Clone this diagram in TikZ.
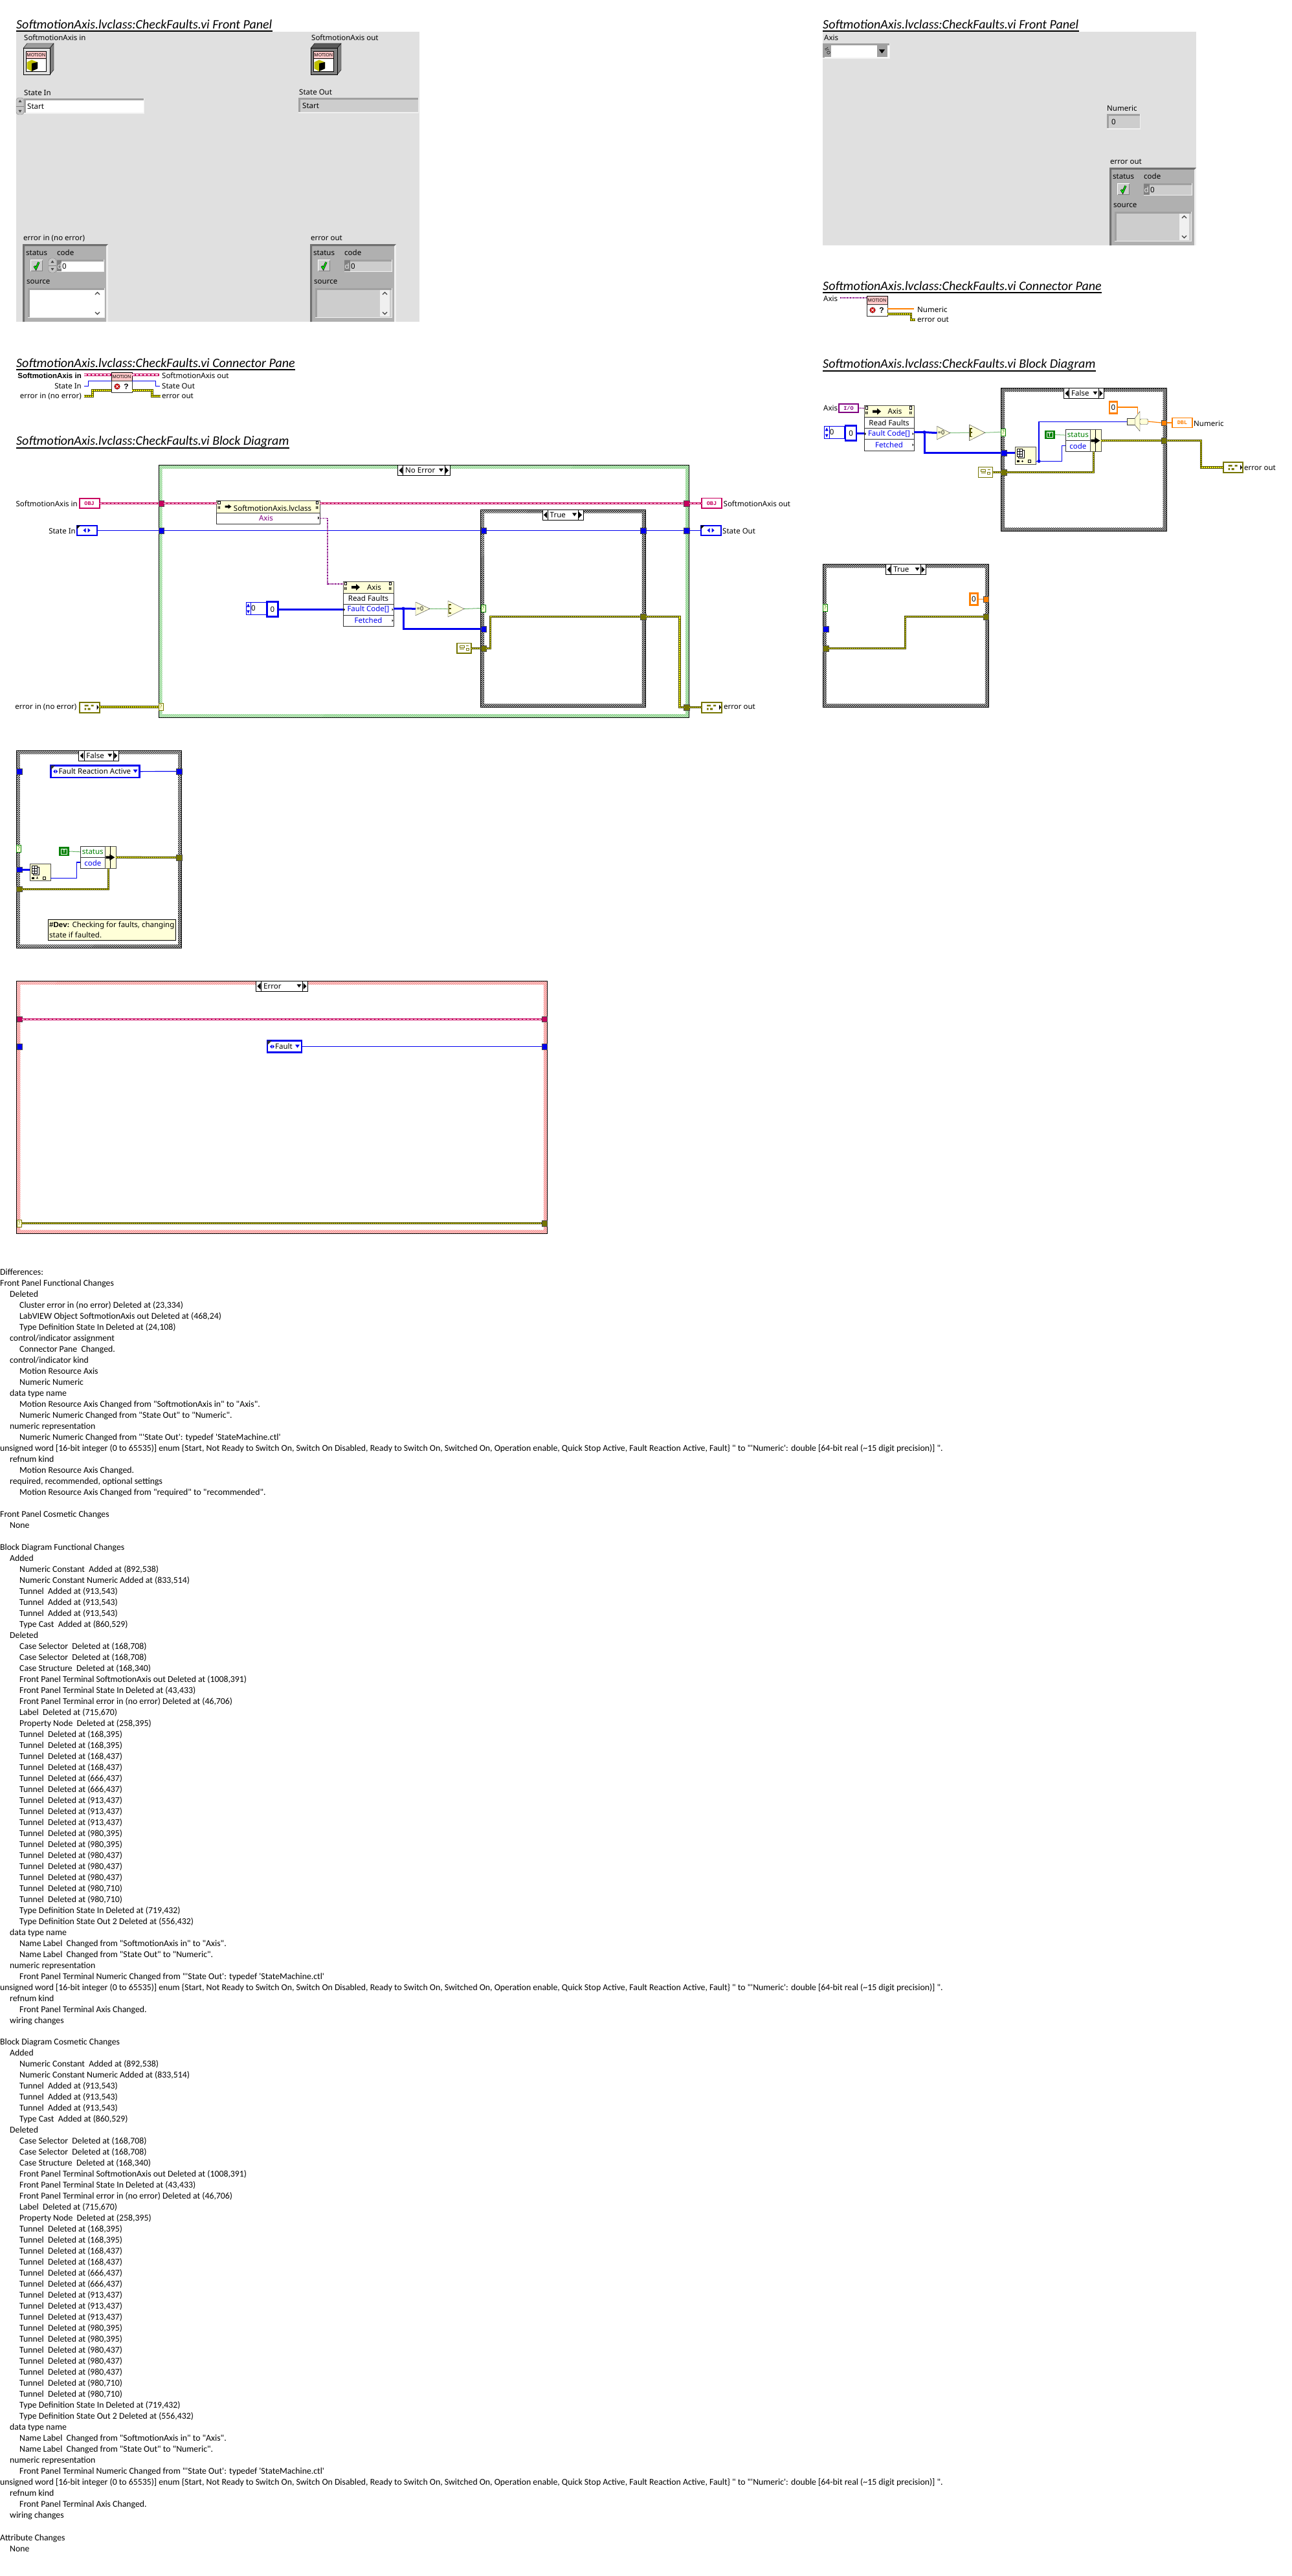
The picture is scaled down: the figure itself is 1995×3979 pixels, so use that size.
\documentclass[tikz,border=0pt]{standalone}
\usepackage{fontspec}
\setsansfont{Noto Sans}
\newfontfamily\difffamily{Carlito}
\newfontfamily\lvmono{Liberation Mono}
\newfontfamily\lvbold{Liberation Sans}
\usetikzlibrary{patterns}

\definecolor{lvpanel}{HTML}{E0E0E0}
\definecolor{lvclus}{HTML}{B0B0B0}
\definecolor{lvind}{HTML}{CDCDCD}
\definecolor{lvlite}{HTML}{F0F0F0}
\definecolor{lvdark}{HTML}{A0A0A0}
\definecolor{lvpink}{HTML}{C8005F}
\definecolor{lvblue}{HTML}{0000F0}
\definecolor{lvolive}{HTML}{757500}
\definecolor{lvoline}{HTML}{4A4A00}
\definecolor{lvyellow}{HTML}{FFFF00}
\definecolor{lvgreen}{HTML}{008000}
\definecolor{lvpurple}{HTML}{800080}
\definecolor{lvorange}{HTML}{FF8000}
\definecolor{lvcream}{HTML}{FFFFD8}
\definecolor{lvband}{HTML}{FFC8C8}
\definecolor{lvgreenhatch}{HTML}{60C060}
\definecolor{lvgreenbase}{HTML}{C8ECC8}
\definecolor{lvredhatch}{HTML}{F07070}
\definecolor{lvredbase}{HTML}{FFD0D0}

% case structure frame: x1 y1 x2 y2 hatch base pattern
\newcommand{\lvframe}[7]{
  \fill[#6,even odd rule] (#1,#2) rectangle (#3,#4) ({#1+5.5},{#2+5.5}) rectangle ({#3-5.5},{#4-5.5});
  \fill[pattern=#7,pattern color=#5,even odd rule] (#1,#2) rectangle (#3,#4) ({#1+5.5},{#2+5.5}) rectangle ({#3-5.5},{#4-5.5});
  \draw[black,line width=1pt] (#1,#2) rectangle (#3,#4);
}
% case selector: name x y w h text
\newcommand{\lvsel}[6]{
  \node[selbox,minimum width=#4pt,minimum height=#5pt] (#1) at (#2,#3) {};
  \node[lab,anchor=west] (#1txt) at ({#2+11.5},{#3+#5/2}) {#6};
  \draw ({#2+8},#3) -- ++(0,#5) ({#2+#4-8},#3) -- ++(0,#5);
  \fill ({#2+2},{#3+#5/2}) -- ++(5,-5) -- ++(0,10) -- cycle;
  \fill ({#2+#4-2},{#3+#5/2}) -- ++(-5,-5) -- ++(0,10) -- cycle;
  \fill ({#2+#4-17},{#3+#5/2-3}) -- ++(7,0) -- ++(-3.5,5) -- cycle;
}
% name x y w h fill
\newcommand{\lvbevel}[6]{
  \begin{scope}[shift={(#2,#3)}]
    \pgfmathsetmacro\bww{#4}\pgfmathsetmacro\bw{#4-4.5}\pgfmathsetmacro\bh{#5-4.5}
    \fill[lvlite] (0,0) rectangle (\bww,#5);
    \fill[lvdark] (0,0) rectangle ({\bww-1.5},{#5-1.5});
    \node[field,fill=#6,minimum width=\bw pt,minimum height=\bh pt] (#1) at (3,3) {};
  \end{scope}
}
% spinner x y w h
\newcommand{\lvspin}[4]{
  \begin{scope}[shift={(#1,#2)}]
    \draw[gray,fill=lvdark!60,rounded corners=4pt] (0,0) rectangle (#3,#4);
    \draw[gray] (0,{#4/2}) -- (#3,{#4/2});
    \fill[gray!60!black] ({#3/2},3) -- ++(2.5,4) -- ++(-5,0) -- cycle;
    \fill[gray!60!black] ({#3/2},{#4-3}) -- ++(2.5,-4) -- ++(-5,0) -- cycle;
  \end{scope}
}
% green check button, x y
\newcommand{\lvcheck}[2]{
  \begin{scope}[shift={(#1,#2)}]
    \fill[white] (0,0) rectangle (19,18);
    \fill[gray] (1,1) rectangle (19,18);
    \fill[lvind] (1,1) rectangle (17.5,16.5);
    \draw[black,line width=3pt] (6,10) -- (8.5,14) -- (13,4);
    \draw[green,line width=1.5pt] (6,10) -- (8.5,14) -- (13,4);
  \end{scope}
}
% scrollbar x y h fill
\newcommand{\lvscroll}[4]{
  \begin{scope}[shift={(#1,#2)}]
    \fill[#4] (0,0) rectangle (15,#3);
    \draw[gray!50!black,line width=1.2pt] (4,7) -- (7.5,3.5) -- (11,7);
    \draw[gray!50!black,line width=1.2pt] (4,{#3-7}) -- (7.5,{#3-3.5}) -- (11,{#3-7});
  \end{scope}
}
% error cluster: name x y w numeric-x d-width field-fill scroll-fill
\newcommand{\lvcluster}[8]{
  \begin{scope}[shift={(#2,#3)}]
    \fill[lvlite] (0,0) rectangle (#4,120);
    \fill[lvclus] (0,0) rectangle ({#4-3},120);
    \fill[lvdark!70!black] (0,0) -- (#4,0) -- ({#4-3},3) -- (3,3) -- (3,120) -- (0,120) -- cycle;
    \node[lab,anchor=west] (#1st) at (5,14) {status};
    \node[lab,anchor=west] (#1co) at (#5,13) {code};
    \lvcheck{12}{24}
    \lvbevel{#1num}{#5}{24}{#4-#5-6}{19}{#7}
    \fill[gray] (#5,25) rectangle ++(#6,17);
    \node[lab,anchor=west,text=lvlite] (#1d) at ({#5+0.5},34) {d};
    \node[lab,anchor=west] (#1zero) at ({#5+#6+1},34) {0};
    \node[lab,anchor=west] (#1so) at (6,58) {source};
    \lvbevel{#1src}{8}{68}{119}{46}{#7}
    \lvscroll{108}{71}{41}{#8}
  \end{scope}
}
% motion class control on a front panel: x y front-fill
\newcommand{\lvobject}[3]{
  \begin{scope}[shift={(#1,#2)}]
    \draw[black,fill=#3!70!black] (0,7.5) -- (6,0) -- (47,0) -- (41,7.5) -- cycle;
    \draw[black,fill=gray] (41,7.5) -- (47,0) -- (47,41) -- (41,48) -- cycle;
    \draw[black,fill=#3] (0,7.5) rectangle (41,48);
    \draw[black,fill=white] (4,12) rectangle (35.5,43.5);
    \node[bandbox,minimum width=31.5pt,minimum height=11pt] (#1mo) at (4,12) {MOTION};
    \fill[lvyellow!75!black] (5.5,29) -- (13,25.5) -- (22,29) -- (22,39) -- (13,43) -- (5.5,39) -- cycle;
    \fill[black] (13,31) -- (22,29) -- (22,39) -- (13,43) -- cycle;
  \end{scope}
}
% connector pane icon: name x y
\newcommand{\lvconn}[3]{
  \node[bandbox,draw=black,line width=1pt,minimum width=32pt,minimum height=13pt] (#1b) at (#2,#3) {MOTION};
  \node[rowbox,line width=1pt,minimum width=32pt,minimum height=18pt] (#1a) at (#2,{#3+13}) {};
  \node[circle,fill=red!80!black,draw=gray,inner sep=0pt,minimum size=9pt] (#1e) at ({#2+9},{#3+22}) {};
  \draw[white,line width=1pt] ({#2+7},{#3+20}) -- ++(4,4) ({#2+11},{#3+20}) -- ++(-4,4);
  \node[font=\lvbold\bfseries\fontsize{12}{12}\selectfont] (#1q) at ({#2+23},{#3+22}) {?};
}
% small page mark of a node header
\newcommand{\lvdoc}[2]{
  \draw[black,fill=white] ({#1},{#2}) rectangle ++(3.5,4.5);
  \fill ({#1},{#2+8}) rectangle ++(1.2,4) ({#1+2.2},{#2+8}) rectangle ++(1.2,4);
}
% read node with three rows: name x y w
\newcommand{\lvread}[4]{
  \node[headbox,minimum width=#4pt,minimum height=18pt] (#1h) at (#2,#3) {};
  \node[lab] (#1ht) at ({#2+#4/2+9},{#3+9}) {Axis};
  \lvdoc{#2+2}{#3+1}\lvdoc{#2+#4-7}{#3+1}
  \fill ({#2+13},{#3+7}) rectangle ++(7,4) ({#2+20},{#3+4}) -- ++(6,5) -- ++(-6,5) -- cycle;
  \node[rowbox,minimum width=#4pt,minimum height=17pt] (#1r) at (#2,{#3+18}) {};
  \node[lab] (#1rt) at ({#2+#4/2},{#3+26.5}) {Read Faults};
  \node[rowbox,minimum width=#4pt,minimum height=17pt] (#1f) at (#2,{#3+35}) {};
  \node[lab,text=lvblue] (#1ft) at ({#2+#4/2},{#3+43.5}) {Fault Code[]};
  \node[rowbox,minimum width=#4pt,minimum height=17.5pt] (#1g) at (#2,{#3+52}) {};
  \node[lab,text=lvblue] (#1gt) at ({#2+#4/2},{#3+60.5}) {Fetched};
  \foreach \yy in {43.5,60.5}{\fill ({#2+#4-2.5},{#3+\yy-2}) -- ++(2,2) -- ++(-2,2) -- cycle;}
  \fill ({#2+1},{#3+41.5}) -- ++(2,2) -- ++(-2,2) -- cycle;
}
% array constant: name x y
\newcommand{\lvarr}[3]{
  \node[arrbox,minimum width=31pt,minimum height=19pt] (#1) at (#2,{#3+1}) {};
  \draw[lvblue] ({#2+7},{#3+1}) -- ++(0,19);
  \fill[lvblue] ({#2+3.5},{#3+3}) -- ++(2.5,5) -- ++(-5,0) -- cycle ({#2+3.5},{#3+18}) -- ++(2.5,-5) -- ++(-5,0) -- cycle;
  \node[lab,anchor=west] (#1z) at ({#2+8},{#3+10}) {0};
  \node[constbox,draw=lvblue,minimum width=17pt,minimum height=23pt] (#1e) at ({#2+32.5},#3) {0};
}
% index node glyph: name x y
\newcommand{\lvidx}[3]{
  \node[headbox,minimum width=31.5pt,minimum height=26.3pt] (#1) at (#2,#3) {};
  \begin{scope}[shift={(#2,#3)}]
    \draw[fill=white] (5,5) rectangle (14,17);
    \draw[fill=white] (3,2.5) rectangle (11,15);
    \draw (3,6.5) -- (11,6.5) (3,10.5) -- (11,10.5) (7,2.5) -- (7,15);
    \fill (3,20.5) rectangle (7,23.5);
    \draw (11,20) -- (11,23) (9.5,21.5) -- (12.5,21.5);
    \draw[line width=.8pt] (20,20) rectangle (24,24);
  \end{scope}
}
% status and code bundle with the merge cell: name x y
\newcommand{\lvbundle}[3]{
  \node[rowbox,minimum width=38pt,minimum height=17pt] (#1s) at (#2,#3) {};
  \node[lab,text=lvgreen] (#1st) at ({#2+19},{#3+8.5}) {status};
  \node[rowbox,minimum width=38pt,minimum height=17pt] (#1c) at (#2,{#3+17}) {};
  \node[lab,text=lvblue] (#1ct) at ({#2+19},{#3+25.5}) {code};
  \node[headbox,minimum width=16.5pt,minimum height=34pt] (#1m) at ({#2+38},#3) {};
  \draw ({#2+46},#3) -- ++(0,34);
  \fill ({#2+39},{#3+15}) rectangle ++(6,4) ({#2+45},{#3+12}) -- ++(8,5) -- ++(-8,5) -- cycle;
}
% green boolean constant: name x y
\newcommand{\lvtrue}[3]{
  \node[anchor=north west,fill=lvgreen,inner sep=0pt,outer sep=0pt,minimum width=16pt,minimum height=13.4pt] (#1) at (#2,#3) {};
  \node[anchor=center,draw=white,line width=.8pt,inner sep=0pt,minimum width=9pt,minimum height=8pt,text=white,font=\lvbold\bfseries\fontsize{8}{8}\selectfont] (#1t) at (#1) {T};
}
% enum constant: name x y w h text
\newcommand{\lvenum}[6]{
  \node[constbox,draw=lvblue,minimum width=#4pt,minimum height=#5pt] (#1) at (#2,#3) {};
  \fill[gray!40!black] (#2,#3) -- ++(7,0) -- ++(-7,7) -- cycle;
  \fill[lvblue] ({#2+4},{#3+#5/2}) -- ++(3,-3) -- ++(0,6) -- cycle ({#2+11},{#3+#5/2}) -- ++(-3,-3) -- ++(0,6) -- cycle;
  \node[lab,anchor=west] (#1t) at ({#2+12},{#3+#5/2}) {#6};
  \fill[lvblue] ({#2+#4-10},{#3+#5/2-3}) -- ++(7,0) -- ++(-3.5,5) -- cycle;
}
% enum terminal: name x y arrow-x
\newcommand{\lvenumterm}[3]{
  \node[termbox,draw=lvblue,minimum width=31pt,minimum height=15.5pt] (#1) at (#2,#3) {};
  \fill[lvblue] ({#2+10},{#3+7.7}) -- ++(4,-3.5) -- ++(0,7) -- cycle ({#2+21},{#3+7.7}) -- ++(-4,-3.5) -- ++(0,7) -- cycle;
  \fill (#2,#3) -- ++(6,0) -- ++(-6,6) -- cycle;
}
% error cluster terminal: name x y w
\newcommand{\lverrterm}[4]{
  \node[termbox,draw=lvolive,minimum width=#4pt,minimum height=16pt] (#1) at (#2,#3) {};
  \fill[lvolive] ({#2+8},{#3+4}) rectangle ++(6,2.5) ({#2+8},{#3+9}) rectangle ++(2.5,3) ({#2+13},{#3+9}) rectangle ++(4,3) ({#2+18},{#3+4}) rectangle ++(4,2.5);
  \fill ({#2+#4-4},{#3+4}) -- ++(3,4) -- ++(-3,4) -- cycle;
}
% small error constant: name x y
\newcommand{\lverrconst}[3]{
  \node[termbox,draw=lvolive,line width=1.2pt,minimum width=22pt,minimum height=15.5pt] (#1) at (#2,#3) {};
  \draw[lvolive,line width=.8pt] ({#2+4},{#3+4}) rectangle ++(7,3) ({#2+4},{#3+9}) -- ++(7,0) ({#2+14},{#3+4}) -- ++(4,0) ({#2+14},{#3+8}) rectangle ++(4,3);
}
% triangle primitive: name x1 x2 ytop ybot
\newcommand{\lvtri}[5]{
  \draw[gray!40!black,fill=lvcream] (#2,#4) -- (#3,{(#4+#5)/2}) -- (#2,#5) -- cycle;
  \coordinate (#1i) at (#2,{(#4+#5)/2});
  \coordinate (#1o) at (#3,{(#4+#5)/2});
}

\newcommand{\lvenumline}{unsigned word [16-bit integer (0 to 65535)] enum \{Start, Not Ready to Switch On, Switch On Disabled, Ready to Switch On, Switched On, Operation enable, Quick Stop Active, Fault Reaction Active, Fault\} " to "'Numeric': double [64-bit real (\char`\~15 digit precision)] ".}
\newcommand{\lvbdlist}{
1/{Added},
2/{Numeric Constant~ Added at (892,538)},
2/{Numeric Constant Numeric Added at (833,514)},
2/{Tunnel~ Added at (913,543)},
2/{Tunnel~ Added at (913,543)},
2/{Tunnel~ Added at (913,543)},
2/{Type Cast~ Added at (860,529)},
1/{Deleted},
2/{Case Selector~ Deleted at (168,708)},
2/{Case Selector~ Deleted at (168,708)},
2/{Case Structure~ Deleted at (168,340)},
2/{Front Panel Terminal SoftmotionAxis out Deleted at (1008,391)},
2/{Front Panel Terminal State In Deleted at (43,433)},
2/{Front Panel Terminal error in (no error) Deleted at (46,706)},
2/{Label~ Deleted at (715,670)},
2/{Property Node~ Deleted at (258,395)},
2/{Tunnel~ Deleted at (168,395)},
2/{Tunnel~ Deleted at (168,395)},
2/{Tunnel~ Deleted at (168,437)},
2/{Tunnel~ Deleted at (168,437)},
2/{Tunnel~ Deleted at (666,437)},
2/{Tunnel~ Deleted at (666,437)},
2/{Tunnel~ Deleted at (913,437)},
2/{Tunnel~ Deleted at (913,437)},
2/{Tunnel~ Deleted at (913,437)},
2/{Tunnel~ Deleted at (980,395)},
2/{Tunnel~ Deleted at (980,395)},
2/{Tunnel~ Deleted at (980,437)},
2/{Tunnel~ Deleted at (980,437)},
2/{Tunnel~ Deleted at (980,437)},
2/{Tunnel~ Deleted at (980,710)},
2/{Tunnel~ Deleted at (980,710)},
2/{Type Definition State In Deleted at (719,432)},
2/{Type Definition State Out 2 Deleted at (556,432)},
1/{data type name},
2/{Name Label~ Changed from "SoftmotionAxis in" to "Axis".},
2/{Name Label~ Changed from "State Out" to "Numeric".},
1/{numeric representation},
2/{Front Panel Terminal Numeric Changed from "'State Out': typedef 'StateMachine.ctl'},
0/{\lvenumline},
1/{refnum kind},
2/{Front Panel Terminal Axis Changed.},
1/{wiring changes}}

\begin{document}
\begin{tikzpicture}[
  x=1pt,y=-1pt,
  title/.style={anchor=west,inner sep=0pt,font=\difffamily\itshape\fontsize{20}{20}\selectfont},
  titlerule/.style={line width=2pt},
  lab/.style={inner sep=0pt,font=\sffamily\fontsize{11.5}{12}\selectfont},
  field/.style={anchor=north west,inner sep=0pt,outer sep=0pt},
  rowbox/.style={anchor=north west,draw=black!80,fill=white,inner sep=0pt,outer sep=0pt},
  headbox/.style={anchor=north west,draw=black!70,fill=lvcream,inner sep=0pt,outer sep=0pt},
  selbox/.style={anchor=north west,draw=black,line width=.8pt,fill=white,inner sep=0pt,outer sep=0pt},
  bandbox/.style={anchor=north west,fill=lvband,draw=black,inner sep=0pt,outer sep=0pt,font=\sffamily\fontsize{7}{7}\selectfont},
  termbox/.style={anchor=north west,fill=white,line width=2pt,inner sep=0pt,outer sep=0pt,font=\lvmono\bfseries\fontsize{8.5}{8.5}\selectfont},
  constbox/.style={anchor=north west,fill=white,line width=2.5pt,inner sep=0pt,outer sep=0pt,font=\sffamily\fontsize{11.5}{12}\selectfont},
  arrbox/.style={anchor=north west,draw=lvblue,fill=white,line width=1pt,inner sep=0pt,outer sep=0pt},
  tunnel/.style={draw=black!70,line width=.4pt,minimum width=8.5pt,minimum height=8.5pt,inner sep=0pt,outer sep=0pt},
  selq/.style={draw=#1,fill=lvcream,minimum width=7pt,minimum height=11pt,inner sep=0pt,outer sep=0pt,text=#1,font=\sffamily\fontsize{8}{8}\selectfont},
  wthin/.style={draw=lvblue,line width=1.2pt},
  wthick/.style={draw=lvblue,line width=3pt},
  wbool/.style={draw=lvgreen,line width=1pt,dash pattern=on 1pt off 1pt},
  wpurple/.style={draw=lvpurple,line width=1.4pt,dash pattern=on 1.5pt off 1pt},
  worange/.style={draw=lvorange,line width=1.2pt},
  wclass/.style={preaction={draw=lvpink,line width=3.4pt,solid},draw=white,line width=1.2pt,dash pattern=on 4pt off 2pt},
  werr/.style={preaction={draw=lvoline,line width=3.3pt,solid},draw=lvyellow,line width=1.3pt,dash pattern=on 2pt off 1pt},
  difftext/.style={anchor=base west,inner sep=0pt,font=\difffamily\fontsize{13.8}{17}\selectfont}
]
  \path[use as bounding box,fill=white] (0,0) rectangle (1995,3979);

  % titles
  \foreach \nam/\x/\y/\txt in {
      tfp1/25/38/Front Panel,tcp1/25/561/Connector Pane,tbd1/25/682/Block Diagram,
      tfp2/1271/38/Front Panel,tcp2/1271/442/Connector Pane,tbd2/1271/563/Block Diagram}{
    \node[title] (\nam) at (\x,\y) {SoftmotionAxis.lvclass:CheckFaults.vi \txt};
    \draw[titlerule] ([yshift=-10pt]\nam.west) -- ([yshift=-10pt]\nam.east);
  }

  % left front panel
  \fill[lvpanel] (25,49) rectangle (648,497);
  \node[lab,anchor=west] (fpObjIn) at (37,58) {SoftmotionAxis in};
  \lvobject{36}{67}{lvpanel}
  \node[lab,anchor=west] (fpObjOut) at (481,58) {SoftmotionAxis out};
  \lvobject{480}{67}{gray}
  \node[lab,anchor=west] (fpStIn) at (37,143) {State In};
  \lvbevel{fpStInBox}{37}{152}{186}{24}{white}
  \lvspin{25}{151}{12}{26}
  \node[lab,anchor=west] (fpStInTxt) at (42,164) {Start};
  \node[lab,anchor=west] (fpStOut) at (462,142) {State Out};
  \lvbevel{fpStOutBox}{461}{151}{186}{24}{lvind}
  \node[lab,anchor=west] (fpStOutTxt) at (467,163) {Start};
  \node[lab,anchor=west] (fpErrIn) at (36,368) {error in (no error)};
  \lvcluster{cla}{35}{377}{132}{53}{7}{white}{white}
  \lvspin{75}{399}{12}{22}
  \node[lab,anchor=west] (fpErrOut) at (480,368) {error out};
  \lvcluster{clb}{479}{377}{133}{53}{9}{lvind}{lvlite}

  % left connector pane
  \lvconn{cpa}{172}{575}
  \node[lab,anchor=east,font=\lvbold\bfseries\fontsize{11.5}{12}\selectfont] (cpaL1) at (126,580) {SoftmotionAxis in};
  \node[lab,anchor=east] (cpaL2) at (126,596) {State In};
  \node[lab,anchor=east] (cpaL3) at (126,612) {error in (no error)};
  \node[lab,anchor=west] (cpaR1) at (250,580) {SoftmotionAxis out};
  \node[lab,anchor=west] (cpaR2) at (250,596) {State Out};
  \node[lab,anchor=west] (cpaR3) at (250,612) {error out};
  \coordinate (cpaI1) at (172,579);\coordinate (cpaI2) at (172,588);\coordinate (cpaI3) at (172,603);
  \coordinate (cpaO1) at (204,579);\coordinate (cpaO2) at (204,588);\coordinate (cpaO3) at (204,603);
  \draw[wclass] ([xshift=4pt]cpaL1.east |- cpaI1) -- (cpaI1);
  \draw[wclass] (cpaO1) -- ([xshift=-4pt]cpaR1.west |- cpaO1);
  \draw[wthin,line width=.9pt] ([xshift=4pt]cpaL2.east) -- ++(6,0) |- (cpaI2);
  \draw[wthin,line width=.9pt] (cpaO2) -| ([xshift=-10pt]cpaR2.west) -- ([xshift=-3pt]cpaR2.west);
  \draw[werr] ([xshift=4pt]cpaL3.east) -- ++(13,0) |- (cpaI3);
  \draw[werr] (cpaO3) -| ([xshift=-15pt]cpaR3.west) -- ([xshift=-2pt]cpaR3.west);

  % left block diagram, no error case
  \lvframe{245}{718.7}{1064.5}{1108.7}{lvgreenhatch}{lvgreenbase}{north east lines}
  \lvframe{742.6}{787}{997}{1092.7}{black}{white}{crosshatch}
  \lvsel{selNoErr}{614.5}{718.7}{80.5}{16}{No Error}
  \lvsel{selTrue}{838}{787}{63}{16.7}{True}
  \node[lab,anchor=east] (bdObjInL) at (120,778) {SoftmotionAxis in};
  \node[termbox,draw=lvpink,text=lvpink,minimum width=31pt,minimum height=15.5pt] (bdObjIn) at (122.6,769.5) {OBJ};
  \node[lab,anchor=west] (bdObjOutL) at (1117.5,778) {SoftmotionAxis out};
  \node[termbox,draw=lvpink,text=lvpink,line width=1.2pt,minimum width=31pt,minimum height=15.5pt] (bdObjOut) at (1084,769.5) {OBJ};
  \node[lab,anchor=east] (bdStInL) at (117,820) {State In};
  \lvenumterm{bdStIn}{118.6}{811.5}
  \node[lab,anchor=west] (bdStOutL) at (1116,820) {State Out};
  \lvenumterm{bdStOut}{1082.6}{811.5}
  \node[lab,anchor=east] (bdErrInL) at (118.6,1092) {error in (no error)};
  \lverrterm{bdErrIn}{122.6}{1084.5}{31}
  \node[lab,anchor=west] (bdErrOutL) at (1118,1092) {error out};
  \lverrterm{bdErrOut}{1084}{1084.5}{31}

  \node[headbox,minimum width=159.5pt,minimum height=18.7pt] (bdUnb) at (334.5,773) {};
  \node[lab] (bdUnbT) at (421,785) {SoftmotionAxis.lvclass};
  \node[rowbox,minimum width=159.5pt,minimum height=17.3pt] (bdUnbA) at (334.5,791.7) {};
  \node[lab,text=lvpurple] (bdUnbAT) at (411,800) {Axis};
  \lvdoc{336.5}{774}\lvdoc{488}{774}
  \fill (347.5,781) rectangle ++(5,3) (352.5,779) -- ++(5,3.5) -- ++(-5,3.5) -- cycle;
  \fill (491,797.5) -- ++(2,2.5) -- ++(-2,2.5) -- cycle;
  \lvread{bdRd}{530}{898}{78}
  \lvarr{bdArr}{380}{929.5}
  \lvtri{bdEq}{642}{664}{930}{950.7}
  \node[lab,font=\sffamily\fontsize{9}{9}\selectfont] (bdEqT) at (649,940.3) {=0};
  \lvtri{bdOr}{692}{717}{928}{953}
  \draw[lvolive!70!black,line width=1.3pt] (697,934) -- (693.5,934) -- (693.5,947) -- (697,947) (693.5,940) -- (697,940);
  \lverrconst{bdErrC}{706}{993.5}

  \foreach \nam/\x/\y/\col in {
      tbCL/249/777.5/lvpink,tbCR/1060.5/777.5/lvpink,
      tbSL/249/819.5/lvblue,tbSI/747/819.5/lvblue,tbSJ/993.5/819.5/lvblue,tbSR/1060.5/819.5/lvblue,
      tbAI/747/971.5/lvblue,
      tbEI/747/1001.7/lvolive,tbEJ/993.5/952.5/lvolive,tbER/1060.5/1092.5/lvolive}{
    \node[tunnel,fill=\col] (\nam) at (\x,\y) {};
  }
  \node[selq=lvolive] (tbEq) at (248.5,1092) {?};
  \node[selq=lvgreen] (tbBq) at (746.3,939.5) {?};
  \coordinate (bdJun) at (623,940);

  \draw[wclass] (bdObjIn.east |- tbCL) -- (tbCL.west);
  \draw[wclass] (tbCL.east) -- (tbCL.east -| bdUnb.west);
  \draw[wclass] (tbCR.west -| bdUnb.east) -- (tbCR.west);
  \draw[wclass] (tbCR.east) -- (tbCR.east -| bdObjOut.west);
  \draw[wthin] (bdStIn.east |- tbSL) -- (tbSL.west);
  \draw[wthin] (tbSL.east) -- (tbSI.west);
  \draw[wthin] (tbSI.east) -- (tbSJ.west);
  \draw[wthin] (tbSJ.east) -- (tbSR.west);
  \draw[wthin] (tbSR.east) -- (tbSR.east -| bdStOut.west);
  \draw[wpurple] (bdUnbA.east) -- ++(12,0) |- ([yshift=5pt]bdRdh.west);
  \draw[wthick] (bdArre.east) -- (bdArre.east -| bdRdf.west);
  \draw[wthick] (bdRdf.east |- bdJun) -- (bdJun) -- (bdEqi);
  \draw[wthick] (bdJun) |- (tbAI.west);
  \fill[lvblue] (bdJun) circle (2.5);
  \draw[wbool] (bdEqo) -- (bdOri);
  \draw[wbool] (bdOro) -- (tbBq.west);
  \draw[werr] (bdErrIn.east |- tbEq) -- (tbEq.west);
  \draw[werr] (bdErrC.east |- tbEI) -- (tbEI.west);
  \draw[werr] (tbEI.east) -- ++(6.5,0) |- (tbEJ.west);
  \draw[werr] (tbEJ.east) -- (1050,952.5) |- (tbER.west);
  \draw[werr] (tbER.east) -- (tbER.east -| bdErrOut.west);

  % false case under the block diagram
  \lvframe{25.3}{1159.3}{280.7}{1464.3}{black}{white}{crosshatch}
  \lvsel{selFa}{121.7}{1159.3}{61.6}{16}{False}
  \foreach \nam/\x/\y/\col in {
      tfSL/29.5/1191.5/lvblue,tfSR/276.5/1191.5/lvblue,tfAL/29.5/1343/lvblue,
      tfEL/29.5/1373.3/lvolive,tfER/276.5/1324.5/lvolive}{
    \node[tunnel,fill=\col] (\nam) at (\x,\y) {};
  }
  \node[selq=lvgreen] (tfBq) at (29,1311) {?};
  \lvenum{faFra}{78.3}{1182.3}{137.4}{18.7}{Fault Reaction Active}
  \lvidx{faIdx}{46.3}{1334.3}
  \lvtrue{faT}{91}{1308.3}
  \lvbundle{faBu}{124.3}{1307.3}
  \node[anchor=north west,draw=black,fill=lvcream,inner sep=0pt,outer sep=0pt,minimum width=196.7pt,minimum height=31.4pt] (faNote) at (74,1420.3) {};
  \node[lab,anchor=west] (faNoteA) at (76,1429) {{\lvbold\bfseries\#Dev:} Checking for faults, changing};
  \node[lab,anchor=west] (faNoteB) at (76,1444) {state if faulted.};
  \draw[wthin] (faFra.east) -- (tfSR.west);
  \draw[wthick] (tfAL.east) -- (faIdx.west |- tfAL);
  \draw[wthin] ([yshift=-9pt]faIdx.east) -| (118.3,1332) -- (faBuc.west |- 0,1332);
  \draw[wbool] (faT.east) -- (faBus.west);
  \draw[werr] (faBum.east) -- (tfER.west);
  \draw[werr] (tfEL.east) -| (167.3,1341.7);

  % error case
  \lvframe{25.8}{1515.3}{845.3}{1905.3}{lvredhatch}{lvredbase}{north east lines}
  \lvsel{selEr}{395.5}{1515.3}{80}{16}{Error}
  \foreach \nam/\x/\y/\col in {
      teCL/30/1574.3/lvpink,teCR/841/1574.3/lvpink,
      teSL/30/1616.5/lvblue,teSR/841/1616.5/lvblue,teER/841/1889.5/lvolive}{
    \node[tunnel,fill=\col] (\nam) at (\x,\y) {};
  }
  \node[selq=lvolive] (teEq) at (29.5,1889.5) {?};
  \lvenum{erFault}{413}{1607.3}{53}{18.4}{Fault}
  \draw[wclass] (teCL.east) -- (teCR.west);
  \draw[wthin] (erFault.east) -- (teSR.west);
  \draw[werr] (teEq.east) -- (teER.west);

  % right front panel
  \fill[lvpanel] (1271,49) rectangle (1848,379);
  \node[lab,anchor=west] (fp2Axis) at (1273,58) {Axis};
  \lvbevel{fp2Ctl}{1271}{67}{104}{24}{white}
  \fill[lvdark] (1274,69.5) rectangle (1284,88.5);
  \node[lab,font=\sffamily\fontsize{7}{7}\selectfont,rotate=-60] (fp2Io) at (1279,79) {I/O};
  \fill[lvdark] (1354.5,69.5) rectangle (1371,88.5);
  \fill (1358,76.5) -- ++(9,0) -- ++(-4.5,6) -- cycle;
  \node[lab,anchor=west] (fp2Num) at (1710,167) {Numeric};
  \lvbevel{fp2NumBox}{1710}{176}{52}{24}{lvind}
  \node[lab,anchor=west] (fp2Zero) at (1717,188) {0};
  \node[lab,anchor=west] (fp2Err) at (1715,250) {error out};
  \lvcluster{clc}{1714}{259}{134}{53}{9}{lvind}{lvlite}

  % right connector pane
  \lvconn{cpb}{1339}{457}
  \node[lab,anchor=west] (cpbL1) at (1272,461) {Axis};
  \node[lab,anchor=west] (cpbR1) at (1417,478) {Numeric};
  \node[lab,anchor=west] (cpbR2) at (1417,494) {error out};
  \coordinate (cpbI1) at (1339,460);\coordinate (cpbO1) at (1371,477);\coordinate (cpbO2) at (1371,485);
  \draw[wpurple] ([xshift=4pt]cpbL1.east |- cpbI1) -- (cpbI1);
  \draw[worange] (cpbO1) -- ([xshift=-5pt]cpbR1.west |- cpbO1);
  \draw[werr] (cpbO2) -| ([xshift=-9.5pt]cpbR2.west) -- ([xshift=-3pt]cpbR2.west);

  % right block diagram, false case
  \lvframe{1546.7}{599.6}{1802}{820.4}{black}{white}{crosshatch}
  \lvsel{selFb}{1643.5}{599.6}{62}{16}{False}
  \node[lab,anchor=west] (rdAxisL) at (1272,630.6) {Axis};
  \node[termbox,draw=lvpurple,text=lvpurple,minimum width=30pt,minimum height=13.5pt] (rdAxis) at (1296,623.5) {I/O};
  \lvread{rdRd}{1335}{626.6}{77}
  \lvarr{rdArr}{1273.7}{657.5}
  \lvtri{rdEq}{1447.5}{1467.7}{658.4}{679}
  \node[lab,font=\sffamily\fontsize{9}{9}\selectfont] (rdEqT) at (1454,668.7) {=0};
  \lvtri{rdOr}{1497.6}{1521.7}{656}{680.6}
  \draw[lvolive!70!black,line width=1.3pt] (1502,662) -- (1499,662) -- (1499,674.5) -- (1502,674.5) (1499,668) -- (1502,668);
  \lvidx{rdIdx}{1568.4}{690.5}
  \lvtrue{rdT}{1613.6}{664.7}
  \lvbundle{rdBu}{1646.4}{663.6}
  \lverrconst{rdErrC}{1511.5}{721.8}
  \node[constbox,draw=lvorange,minimum width=12pt,minimum height=17.8pt] (rdZero) at (1714,620.6) {0};
  \node[lab,anchor=west] (rdNumL) at (1844,654) {Numeric};
  \node[termbox,draw=lvorange,text=lvorange,line width=1.2pt,minimum width=31pt,minimum height=14.8pt] (rdNum) at (1811,645.4) {DBL};
  \node[lab,anchor=west] (rdErrL) at (1922,722.4) {error out};
  \lverrterm{rdErr}{1889.5}{714}{30.5}
  \draw[gray!40!black,fill=lvcream] (1740.7,646.5) rectangle (1753.2,655.8);
  \draw[gray!40!black,fill=lvcream] (1753.2,646) -- (1761,635.5) -- (1761,666) -- (1753.2,656.5) -- cycle;
  \draw[gray!40!black,fill=lvcream,rounded corners=2pt] (1761,647) rectangle (1773.5,655.5);
  \coordinate (rdSelIn) at (1740.7,651.3);
  \coordinate (rdSelTop) at (1757.6,639);
  \coordinate (rdSelOut) at (1773.5,651);
  \coordinate (rdJunA) at (1428,667.6);
  \coordinate (rdJunB) at (1605,712.4);

  \foreach \nam/\x/\y/\col in {
      trAL/1550.5/699.5/lvblue,trEL/1550.5/729.7/lvolive,
      trER/1798.3/680.5/lvolive,trNR/1798.3/653/lvorange}{
    \node[tunnel,fill=\col] (\nam) at (\x,\y) {};
  }
  \node[selq=lvgreen] (trBq) at (1550,667.3) {?};
  \draw[wpurple] (rdAxis.east) -- ([yshift=5pt]rdRdh.west);
  \draw[wthick] (rdArre.east) -- (rdArre.east -| rdRdf.west);
  \draw[wthick] (rdRdf.east |- rdJunA) -- (rdJunA) -- (rdEqi);
  \draw[wthick] (rdJunA) |- (trAL.west);
  \fill[lvblue] (rdJunA) circle (2.5);
  \draw[wthick] (trAL.east) -- (trAL.east -| rdIdx.west);
  \draw[wbool] (rdEqo) -- (rdOri);
  \draw[wbool] (rdOro) -- (trBq.west);
  \draw[wthin] (rdIdx.east |- rdJunB) -- (rdJunB) -| (1640.6,688.3) -- (rdBuc.west |- 0,688.3);
  \draw[wthin] (rdJunB) |- (rdSelIn);
  \fill[lvblue] (rdJunB) circle (2.5);
  \draw[wbool] (rdT.east) -- (rdBus.west);
  \draw[werr] (rdBum.east) -- (trER.west);
  \draw[werr] (rdErrC.east |- trEL) -- (trEL.west);
  \draw[werr] (trEL.east) -| (1689.7,697.6);
  \draw[worange] (rdZero.east |- 0,629) -| (rdSelTop);
  \draw[worange] (rdSelOut) -- (trNR.west);
  \draw[worange] (trNR.east) -- (trNR.east -| rdNum.west);
  \draw[werr] (trER.east) -- (1855.3,680.5) |- (rdErr.west);

  % true case, lower right
  \lvframe{1271.3}{871.5}{1527.4}{1092.7}{black}{white}{crosshatch}
  \lvsel{selTb}{1368.6}{871.5}{62}{16.3}{True}
  \foreach \nam/\x/\y/\col in {
      tuAL/1275.5/971.5/lvblue,tuEL/1275.5/1001.7/lvolive,
      tuER/1523.2/952.5/lvolive,tuNR/1523.2/925.5/lvorange}{
    \node[tunnel,fill=\col] (\nam) at (\x,\y) {};
  }
  \node[selq=lvgreen] (tuBq) at (1275,939) {?};
  \node[constbox,draw=lvorange,minimum width=12pt,minimum height=18pt] (tuZero) at (1498.5,916.6) {0};
  \draw[werr] (tuEL.east) -- (1398.4,1001.7) |- (tuER.west);
  \draw[worange] (tuZero.east |- tuNR) -- (tuNR.west);

  % differences text, one node per line
  \foreach \ind/\lin [count=\k] in {
      0/{Differences:},
      0/{Front Panel Functional Changes},
      1/{Deleted},
      2/{Cluster error in (no error) Deleted at (23,334)},
      2/{LabVIEW Object SoftmotionAxis out Deleted at (468,24)},
      2/{Type Definition State In Deleted at (24,108)},
      1/{control/indicator assignment},
      2/{Connector Pane~ Changed.},
      1/{control/indicator kind},
      2/{Motion Resource Axis},
      2/{Numeric Numeric},
      1/{data type name},
      2/{Motion Resource Axis Changed from "SoftmotionAxis in" to "Axis".},
      2/{Numeric Numeric Changed from "State Out" to "Numeric".},
      1/{numeric representation},
      2/{Numeric Numeric Changed from "'State Out': typedef 'StateMachine.ctl'},
      0/{\lvenumline},
      1/{refnum kind},
      2/{Motion Resource Axis Changed.},
      1/{required, recommended, optional settings},
      2/{Motion Resource Axis Changed from "required" to "recommended".}}{
    \node[difftext] (dfp\k) at ({15*\ind},{1952+17*\k}) {\lin};
  }
  \node[difftext] (dfpc) at (0,2343) {Front Panel Cosmetic Changes};
  \node[difftext] (dfpn) at (15,2360) {None};
  \node[difftext] (dbf) at (0,2394) {Block Diagram Functional Changes};
  \foreach \ind/\lin [count=\k] in \lvbdlist {
    \node[difftext] (dbf\k) at ({15*\ind},{2394+17*\k}) {\lin};
  }
  \node[difftext] (dbc) at (0,3158) {Block Diagram Cosmetic Changes};
  \foreach \ind/\lin [count=\k] in \lvbdlist {
    \node[difftext] (dbc\k) at ({15*\ind},{3158+17*\k}) {\lin};
  }
  \node[difftext] (dat) at (0,3924) {Attribute Changes};
  \node[difftext] (datn) at (15,3941) {None};
\end{tikzpicture}
\end{document}
